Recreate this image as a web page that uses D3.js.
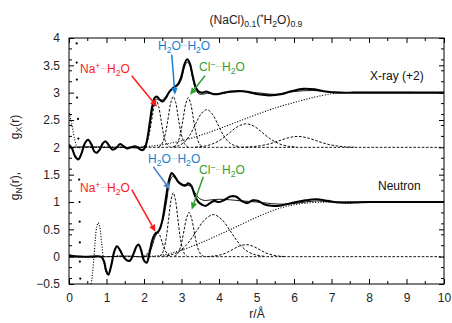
<!DOCTYPE html>
<html><head><meta charset="utf-8">
<script src="https://cdn.jsdelivr.net/npm/d3@7"></script>
<style>body{margin:0;background:#fff} text{font-family:"Liberation Sans",Arial,sans-serif}</style>
</head><body><svg id="c" width="452" height="323"></svg>
<script>
// ---------- data (r in Å, g values) ----------
const xTicks = [0,1,2,3,4,5,6,7,8,9,10];
const xTickLabels = ["0","1","2","3","4","5","6","7","8","9","10"];
const xMinorTicks = [0.5,1.5,2.5,3.5,4.5,5.5,6.5,7.5,8.5,9.5];
const yTicks = [-0.5,0,0.5,1,1.5,2,2.5,3,3.5,4];
const yTickLabels = ["\u22120.5","0","0.5","1","1.5","2","2.5","3","3.5","4"];
const yMinorTicks = [-0.4,-0.2,0.2,0.4,0.6,0.8,1.2,1.4,1.6,1.8,2.2,2.4,2.6,2.8,3.2,3.4,3.6,3.8];

// X-ray (offset +2)
const xrayExp = [[0,2.05],[0.08,1.98],[0.16,1.84],[0.25,1.78],[0.33,1.88],[0.42,2.07],[0.51,2.14],[0.6,2.05],[0.67,1.93],[0.73,1.9],[0.82,1.96],[0.9,2.07],[0.97,2.11],[1.05,2.05],[1.15,1.96],[1.25,1.98],[1.36,2.06],[1.45,2.02],[1.55,1.98],[1.65,2.0],[1.75,2.02],[1.83,2.0],[1.9,1.96],[1.97,1.95],[2.04,2.02],[2.1,2.2],[2.16,2.48],[2.22,2.75],[2.28,2.9],[2.34,2.93],[2.42,2.87],[2.5,2.84],[2.58,2.9],[2.68,3.02],[2.8,3.1],[2.9,3.15],[2.99,3.28],[3.07,3.5],[3.15,3.61],[3.22,3.54],[3.3,3.3],[3.38,3.1],[3.46,3.02],[3.56,3.0],[3.66,3.02],[3.78,2.99],[3.92,2.97],[4.08,2.99],[4.3,3.02],[4.55,3.03],[4.8,3.01],[5.05,2.97],[5.35,2.95],[5.65,2.97],[5.95,3.03],[6.25,3.07],[6.55,3.06],[6.85,3.02],[7.2,3.0],[7.6,3.0],[8.2,3.0],[9.0,3.0],[10,3.0]];
const xrayFit = [[0,2.0],[0.5,2.01],[1.0,2.0],[1.5,2.0],[1.9,1.99],[2.02,2.02],[2.1,2.18],[2.18,2.52],[2.25,2.78],[2.32,2.88],[2.4,2.87],[2.5,2.87],[2.6,2.95],[2.7,3.04],[2.8,3.1],[2.9,3.13],[3.0,3.25],[3.08,3.47],[3.15,3.56],[3.22,3.5],[3.3,3.26],[3.38,3.06],[3.46,2.98],[3.56,2.97],[3.7,2.99],[3.9,2.98],[4.2,3.0],[4.6,3.02],[5.0,3.0],[5.5,2.97],[6.0,3.02],[6.5,3.04],[7.0,3.01],[8,3.0],[10,3.0]];
const xrayBase = [[0,2],[10,2]];
const xrayG1 = [[1.97,2.01],[2.03,2.04],[2.09,2.11],[2.15,2.28],[2.21,2.52],[2.27,2.75],[2.33,2.85],[2.39,2.75],[2.45,2.52],[2.51,2.28],[2.57,2.11],[2.63,2.04],[2.69,2.01]];
const xrayG2 = [[2.39,2.01],[2.455,2.04],[2.52,2.13],[2.585,2.3],[2.65,2.56],[2.715,2.82],[2.78,2.93],[2.845,2.82],[2.91,2.56],[2.975,2.3],[3.04,2.13],[3.105,2.04],[3.17,2.01]];
const xrayG3 = [[2.79,2.01],[2.855,2.04],[2.92,2.12],[2.985,2.3],[3.05,2.55],[3.115,2.8],[3.18,2.91],[3.245,2.8],[3.31,2.55],[3.375,2.3],[3.44,2.12],[3.505,2.04],[3.57,2.01]];
const xrayG4 = [[2.77,2.01],[2.92,2.03],[3.07,2.09],[3.22,2.22],[3.37,2.42],[3.52,2.61],[3.67,2.69],[3.82,2.61],[3.97,2.42],[4.12,2.22],[4.27,2.09],[4.42,2.03],[4.57,2.01]];
const xrayG5 = [[3.37,2.005],[3.6,2.02],[3.82,2.06],[4.05,2.14],[4.27,2.26],[4.5,2.38],[4.72,2.43],[4.95,2.38],[5.17,2.26],[5.4,2.14],[5.62,2.06],[5.85,2.02],[6.07,2.005]];
const xrayG6 = [[4.6,2.002],[4.85,2.01],[5.1,2.03],[5.35,2.065],[5.6,2.12],[5.85,2.175],[6.1,2.2],[6.35,2.175],[6.6,2.12],[6.85,2.065],[7.1,2.03],[7.35,2.01],[7.6,2.002]];
const xrayLong = [[1.7,2.0],[2.0,2.01],[2.5,2.05],[3.0,2.12],[3.5,2.22],[4.0,2.34],[4.5,2.47],[5.0,2.6],[5.5,2.72],[6.0,2.82],[6.5,2.91],[7.0,2.98],[7.3,3.0],[10,3.0]];
const xrayLow = [[0,2.63],[0.05,2.5],[0.1,2.33],[0.15,2.15],[0.2,2.03],[0.25,1.99],[0.35,2.0],[2.0,2.0]];
const xrayDots = [[0.205,3.9],[0.205,3.55],[0.21,3.24],[0.215,2.91],[0.24,2.52],[0.25,2.16]];

// Neutron
const neutExp = [[0,0.03],[0.1,0.01],[0.3,0.0],[0.6,0.0],[0.85,0.0],[0.93,-0.08],[0.99,-0.25],[1.05,-0.33],[1.13,-0.15],[1.21,0.1],[1.28,0.19],[1.36,0.12],[1.45,0.0],[1.55,-0.07],[1.63,-0.07],[1.72,0.05],[1.8,0.19],[1.86,0.22],[1.93,0.1],[2.0,-0.07],[2.07,-0.11],[2.14,0.04],[2.22,0.3],[2.3,0.42],[2.37,0.45],[2.43,0.52],[2.5,0.7],[2.58,1.05],[2.66,1.38],[2.74,1.53],[2.82,1.47],[2.9,1.38],[3.0,1.32],[3.1,1.3],[3.18,1.34],[3.26,1.3],[3.35,1.13],[3.45,1.0],[3.55,0.95],[3.65,0.93],[3.76,0.98],[3.87,1.02],[4.0,1.0],[4.15,1.04],[4.3,1.1],[4.45,1.1],[4.6,1.02],[4.75,0.98],[4.9,1.03],[5.05,1.02],[5.2,0.96],[5.4,0.93],[5.6,0.93],[5.8,0.96],[6.0,0.99],[6.3,1.03],[6.6,1.05],[6.9,1.02],[7.2,0.99],[7.6,0.99],[8.0,1.0],[9.0,1.0],[10,1.0]];
const neutFit = [[0,0.0],[1.0,0.0],[1.6,0.01],[2.0,0.0],[2.1,0.03],[2.2,0.16],[2.3,0.37],[2.4,0.48],[2.5,0.66],[2.6,1.0],[2.68,1.35],[2.76,1.47],[2.85,1.42],[2.95,1.35],[3.05,1.32],[3.15,1.31],[3.25,1.28],[3.35,1.18],[3.45,1.08],[3.6,1.03],[3.8,1.04],[4.0,1.05],[4.3,1.04],[4.6,1.02],[5.0,1.0],[5.4,0.97],[5.8,0.96],[6.2,0.99],[6.6,1.02],[7.0,1.0],[8,1.0],[10,1.0]];
const neutBase = [[0,0],[10,0]];
const neutG1 = [[1.96,0.005],[2.025,0.02],[2.09,0.06],[2.155,0.146],[2.22,0.27],[2.285,0.4],[2.35,0.45],[2.415,0.4],[2.48,0.27],[2.545,0.146],[2.61,0.06],[2.675,0.02],[2.74,0.005]];
const neutG2 = [[2.42,0.013],[2.48,0.05],[2.54,0.16],[2.6,0.38],[2.66,0.71],[2.72,1.03],[2.78,1.17],[2.84,1.03],[2.9,0.71],[2.96,0.38],[3.02,0.16],[3.08,0.05],[3.14,0.013]];
const neutG3 = [[2.81,0.009],[2.875,0.036],[2.94,0.11],[3.005,0.26],[3.07,0.49],[3.135,0.71],[3.2,0.81],[3.265,0.71],[3.33,0.49],[3.395,0.26],[3.46,0.11],[3.525,0.036],[3.59,0.009]];
const neutG4 = [[2.5,0.008],[2.725,0.034],[2.95,0.1],[3.175,0.25],[3.4,0.47],[3.625,0.68],[3.85,0.77],[4.075,0.68],[4.3,0.47],[4.525,0.25],[4.75,0.1],[4.975,0.034],[5.2,0.008]];
const neutG5 = [[3.67,0.002],[3.845,0.01],[4.02,0.03],[4.195,0.07],[4.37,0.134],[4.545,0.194],[4.72,0.22],[4.895,0.194],[5.07,0.134],[5.245,0.07],[5.42,0.03],[5.595,0.01],[5.77,0.002]];
const neutLong = [[2.0,0.0],[2.5,0.03],[3.0,0.12],[3.5,0.25],[4.0,0.4],[4.5,0.56],[5.0,0.72],[5.5,0.86],[6.0,0.95],[6.5,0.99],[7.0,1.0],[10,1.0]];
const neutLow = [[0.57,-0.6],[0.62,-0.35],[0.66,-0.05],[0.7,0.3],[0.74,0.55],[0.78,0.62],[0.82,0.55],[0.87,0.25],[0.93,-0.1],[0.99,-0.28],[1.05,-0.33],[1.12,-0.18],[1.2,0.0],[1.5,0.0]];
const neutDots = [[0.27,1.41],[0.28,1.0],[0.285,0.64],[0.29,0.26],[0.29,-0.09],[0.3,-0.4]];

// annotations: [r, g] in data units
const labelPos = [[0.293,3.366],[2.373,3.786],[3.467,3.402],[8.027,3.238],[0.293,1.189],[2.107,1.719],[3.467,1.518],[8.24,1.216]];
const arrowFrom = [[1.672,3.311],[2.739,3.695],[3.627,3.311],[1.672,1.226],[2.248,1.646],[3.581,1.463]];
const arrowTo   = [[2.347,2.744],[2.827,2.963],[3.227,2.963],[2.307,0.457],[2.693,1.226],[3.272,0.86]];
const arrowColors = ["#ff1a1a","#1a7fd0","#2f9e2f","#ff1a1a","#4a82c4","#2f9e2f"];

// ---------- drawing ----------
const svg = d3.select("#c");
const x = d3.scaleLinear().domain([0,10]).range([69,444]);
const y = d3.scaleLinear().domain([-0.5,4]).range([284,38]);

svg.append("clipPath").attr("id","clip").append("rect")
  .attr("x",x(0)).attr("y",y(4)).attr("width",x(10)-x(0)).attr("height",y(-0.5)-y(4));
const plot = svg.append("g").attr("clip-path","url(#clip)");
const line = d3.line().x(d=>x(d[0])).y(d=>y(d[1])).curve(d3.curveCatmullRom.alpha(0.5));

function draw(data, w, dash){
  plot.append("path").datum(data).attr("d",line).attr("fill","none")
    .attr("stroke","#000").attr("stroke-width",w).attr("stroke-dasharray",dash||null);
}
const dashed = "2.6,1.6", dotted = "1.1,1.6";
[xrayBase, neutBase].forEach(d=>draw(d,0.9,dashed));
[xrayG1,xrayG2,xrayG3,xrayG4,xrayG5,xrayG6,neutG1,neutG2,neutG3,neutG4,neutG5].forEach(d=>draw(d,0.95,dashed));
[xrayLong, neutLong, xrayLow, neutLow].forEach(d=>draw(d,1.1,dotted));
[xrayDots, neutDots].forEach(arr=>{
  plot.selectAll(null).data(arr).enter().append("circle")
    .attr("cx",d=>x(d[0])).attr("cy",d=>y(d[1])).attr("r",1.1).attr("fill","#000");
});
draw(xrayFit,0.9); draw(neutFit,0.9);
draw(xrayExp,2.1); draw(neutExp,2.1);

// axes with inward ticks
const fmtX = (d)=>xTickLabels[xTicks.indexOf(d)];
const fmtY = (d)=>yTickLabels[yTicks.indexOf(d)];
const gB = svg.append("g").attr("transform",`translate(0,${y(-0.5)})`)
  .call(d3.axisBottom(x).tickValues(xTicks).tickFormat(fmtX).tickSize(-5).tickPadding(9));
const gT = svg.append("g").attr("transform",`translate(0,${y(4)})`)
  .call(d3.axisTop(x).tickValues(xTicks).tickFormat("").tickSize(-5));
const gL = svg.append("g").attr("transform",`translate(${x(0)},0)`)
  .call(d3.axisLeft(y).tickValues(yTicks).tickFormat(fmtY).tickSize(-5).tickPadding(9));
const gR = svg.append("g").attr("transform",`translate(${x(10)},0)`)
  .call(d3.axisRight(y).tickValues(yTicks).tickFormat("").tickSize(-5));
[gB,gT,gL,gR].forEach(g=>{ g.select(".domain").remove(); g.selectAll("text").attr("font-size",12).attr("font-family","Liberation Sans, Arial, sans-serif").attr("fill","#222"); g.selectAll("line").attr("stroke","#000"); });
// minor ticks
const minor = svg.append("g").attr("stroke","#000").attr("stroke-width",1);
xMinorTicks.forEach(v=>{
  minor.append("line").attr("x1",x(v)).attr("x2",x(v)).attr("y1",y(-0.5)).attr("y2",y(-0.5)-3);
  minor.append("line").attr("x1",x(v)).attr("x2",x(v)).attr("y1",y(4)).attr("y2",y(4)+3);
});
yMinorTicks.forEach(v=>{
  minor.append("line").attr("x1",x(0)).attr("x2",x(0)+3).attr("y1",y(v)).attr("y2",y(v));
  minor.append("line").attr("x1",x(10)).attr("x2",x(10)-3).attr("y1",y(v)).attr("y2",y(v));
});
// frame
svg.append("rect").attr("x",x(0)).attr("y",y(4)).attr("width",x(10)-x(0)).attr("height",y(-0.5)-y(4))
  .attr("fill","none").attr("stroke","#000").attr("stroke-width",1);

// rich text helper: segments [text, kind]
function rich(sel, segs, size){
  let shift = 0;
  segs.forEach(([t,k])=>{
    let target = k==="sub"?3:k==="sup"?-4:k==="dots"?-2:0;
    const ts = sel.append("tspan").text(t).attr("dy", target-shift);
    if(k!=="n") ts.attr("font-size", k==="dots"? size*0.55 : size*0.72);
    shift = target;
  });
}

// title
const title = svg.append("text").attr("x",256).attr("y",24).attr("text-anchor","middle").attr("font-size",12).attr("fill","#222");
rich(title,[["(NaCl)","n"],["0.1","sub"],["(","n"],["*","sup"],["H","n"],["2","sub"],["O)","n"],["0.9","sub"]],12);

// axis titles
svg.append("text").attr("x",257).attr("y",318).attr("text-anchor","middle").attr("font-size",12).attr("fill","#222").text("r/\u00C5");
const yl1 = svg.append("text").attr("transform","translate(19,186) rotate(-90)").attr("text-anchor","middle").attr("font-size",12).attr("fill","#222");
rich(yl1,[["g","n"],["N","sub"],["(r),","n"]],12);
const yl2 = svg.append("text").attr("transform","translate(19,127) rotate(-90)").attr("text-anchor","middle").attr("font-size",12).attr("fill","#222");
rich(yl2,[["g","n"],["X","sub"],["(r)","n"]],12);

// annotation texts
const naSegs = [["Na","n"],["+","sup"],["\u00B7\u00B7\u00B7","dots"],["H","n"],["2","sub"],["O","n"]];
const h2oSegs = [["H","n"],["2","sub"],["O","n"],["\u00B7\u00B7\u00B7","dots"],["H","n"],["2","sub"],["O","n"]];
const clSegs = [["Cl","n"],["\u2212","sup"],["\u00B7\u00B7\u00B7","dots"],["H","n"],["2","sub"],["O","n"]];
const labelSegs = [naSegs,h2oSegs,clSegs,[["X-ray (+2)","n"]],naSegs,h2oSegs,clSegs,[["Neutron","n"]]];
const labelColors = ["#ff1a1a","#1a7fd0","#2f9e2f","#111","#ff1a1a","#1a7fd0","#2f9e2f","#111"];
labelPos.forEach((p,i)=>{
  const t = svg.append("text").attr("x",x(p[0])).attr("y",y(p[1])).attr("font-size",12).attr("fill",labelColors[i]);
  rich(t,labelSegs[i],12);
});

// arrows
arrowFrom.forEach((f,i)=>{
  const x1=x(f[0]), y1=y(f[1]), x2=x(arrowTo[i][0]), y2=y(arrowTo[i][1]);
  const ang=Math.atan2(y2-y1,x2-x1), L=7, W=3.2;
  const bx=x2-L*Math.cos(ang), by=y2-L*Math.sin(ang);
  svg.append("line").attr("x1",x1).attr("y1",y1).attr("x2",bx).attr("y2",by)
    .attr("stroke",arrowColors[i]).attr("stroke-width",1.5);
  const px=-Math.sin(ang)*W, py=Math.cos(ang)*W;
  svg.append("path").attr("d",`M${x2},${y2}L${bx+px},${by+py}L${bx-px},${by-py}Z`).attr("fill",arrowColors[i]);
});
</script></body></html>
